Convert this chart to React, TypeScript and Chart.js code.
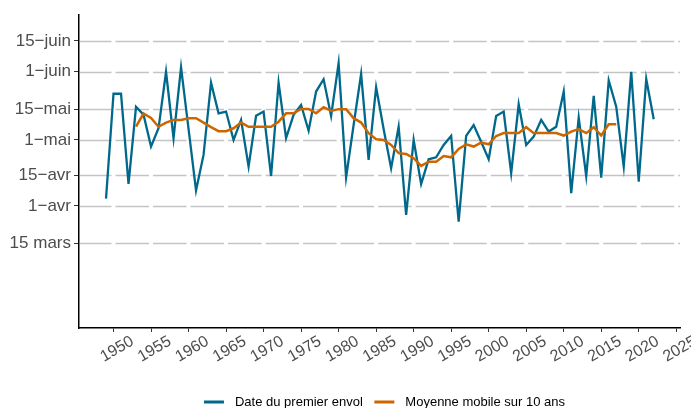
import React, { useEffect, useRef } from 'react';
import { Chart, registerables } from 'chart.js';

Chart.register(...registerables);

// ---- Data ----
const years: number[] = [];
for (let y = 1949; y <= 2022; y++) years.push(y);

// Day of year of the first flight (1949..2022)
const firstFlight: number[] = [
  94.3, 142, 142, 101, 136, 132.5, 118, 126.3, 152, 121.8, // 1949-1958
  154, 126, 98, 114.2, 147, 133.1, 133.9, 121, 130.1, 108.9, // 1959-1968
  132, 133.9, 104.6, 147, 121.8, 132.4, 136.9, 125.2, 143, 148.6, // 1969-1978
  131.9, 155.9, 104, 127.8, 151, 111.9, 145, 126, 108.1, 127, // 1979-1988
  86.9, 121, 101, 112.2, 113.1, 118.7, 122.8, 83.9, 122.8, 127.8, // 1989-1998
  120.2, 112.2, 131.9, 133.9, 105.9, 137.2, 118.7, 122.5, 130.1, 124.8, // 1999-2008
  127, 143, 96.8, 131.1, 104.6, 141, 103.9, 148, 136.1, 108.9, // 2009-2018
  152, 102, 148.7, 130.4, // 2019-2022
];

// 10-year moving average, 1953..2017
const maStartYear = 1953;
const movingAvg: number[] = [
  127, 133, 131, 127, 128.9, 130.1, 130.1, 130.9, 130.9, 128.9, // 1953-1962
  126.8, 125, 125, 126.3, 128.9, 127, 127, 127, 127, 129.3, // 1963-1972
  133.1, 133.1, 135.1, 135.1, 133.1, 135.9, 134.2, 135, 135, 130.9, // 1973-1982
  128.9, 124.1, 121.3, 121, 118.7, 115, 114.6, 112.7, 109.2, 111.1, // 1983-1992
  111.1, 113.7, 113.1, 116.9, 119, 118, 119.8, 119, 122.8, 124.1, // 1993-2002
  124.1, 124.1, 126.8, 124.1, 124.1, 124.1, 124.1, 123, 124.8, 125.9, // 2003-2012
  124.1, 126.8, 123, 128.1, 128.1, // 2013-2017
];

const seriesLabels = ['Date du premier envol', 'Moyenne mobile sur 10 ans'];
const seriesColors = ['#00688B', '#CD6600'];

const yTickValues = [74, 91, 105, 121, 135, 152, 166];
const yTickLabels = ['15 mars', '1\u2212avr', '15\u2212avr', '1\u2212mai', '15\u2212mai', '1\u2212juin', '15\u2212juin'];
const xTickValues = [1950, 1955, 1960, 1965, 1970, 1975, 1980, 1985, 1990, 1995, 2000, 2005, 2010, 2015, 2020, 2025];

const FONT = '"Liberation Sans", Arial, Helvetica, sans-serif';

// Horizontal grid lines, broken by white gaps at each x tick
const gridPlugin = {
  id: 'brokenGrid',
  beforeDatasetsDraw(chart: any) {
    const ctx = chart.ctx as CanvasRenderingContext2D;
    const xs = chart.scales.x;
    const ys = chart.scales.y;
    const ca = chart.chartArea;
    const gapHalf = 2;
    const breaks = xs.ticks
      .map((t: any) => xs.getPixelForValue(t.value))
      .filter((px: number) => px > ca.left && px < ca.right);
    ctx.save();
    ctx.strokeStyle = '#C4C4C4';
    ctx.lineWidth = 1.3;
    ys.ticks.forEach((t: any) => {
      const py = Math.round(ys.getPixelForValue(t.value)) + 0.5;
      let start = ca.left + 1;
      ctx.beginPath();
      breaks.forEach((bx: number) => {
        ctx.moveTo(start, py);
        ctx.lineTo(bx - gapHalf, py);
        start = bx + gapHalf;
      });
      ctx.moveTo(start, py);
      ctx.lineTo(ca.right, py);
      ctx.stroke();
    });
    ctx.restore();
  },
};

const legendPlugin = {
  id: 'customLegend',
  afterDraw(chart: any) {
    const ctx = chart.ctx as CanvasRenderingContext2D;
    ctx.save();
    ctx.font = `13px ${FONT}`;
    ctx.textBaseline = 'middle';
    ctx.textAlign = 'left';
    const y = 402;
    const lineW = 20;
    const gap = 11;
    const spacing = 11.5;
    const items = chart.data.datasets.map((d: any) => ({ label: d.label, color: d.borderColor }));
    let total = 0;
    items.forEach((it: any, i: number) => {
      total += lineW + gap + ctx.measureText(it.label).width;
      if (i > 0) total += spacing;
    });
    const ca = chart.chartArea;
    let x = (ca.left + ca.right) / 2 + 5 - total / 2;
    items.forEach((it: any) => {
      ctx.strokeStyle = it.color;
      ctx.lineWidth = 3;
      ctx.beginPath();
      ctx.moveTo(x, y);
      ctx.lineTo(x + lineW, y);
      ctx.stroke();
      x += lineW + gap;
      ctx.fillStyle = '#000000';
      ctx.fillText(it.label, x, y);
      x += ctx.measureText(it.label).width + spacing;
    });
    ctx.restore();
  },
};

export default function App() {
  const canvasRef = useRef<HTMLCanvasElement | null>(null);

  useEffect(() => {
    const canvas = canvasRef.current;
    if (!canvas) return;
    const blueData = years.map((yr, i) => ({ x: yr, y: firstFlight[i] }));
    const maData = movingAvg.map((v, i) => ({ x: maStartYear + i, y: v }));

    const chart = new Chart(canvas, {
      type: 'line',
      data: {
        datasets: [
          {
            label: seriesLabels[0],
            data: blueData,
            borderColor: seriesColors[0],
            backgroundColor: seriesColors[0],
            borderWidth: 2.3,
            pointRadius: 0,
            tension: 0,
            order: 2,
          },
          {
            label: seriesLabels[1],
            data: maData,
            borderColor: seriesColors[1],
            backgroundColor: seriesColors[1],
            borderWidth: 2.5,
            pointRadius: 0,
            tension: 0,
            order: 1,
          },
        ],
      },
      options: {
        responsive: false,
        animation: false,
        devicePixelRatio: 1,
        layout: { padding: { left: 0, right: 11, top: 15, bottom: 0 } },
        plugins: {
          legend: { display: false },
          tooltip: { enabled: false },
        },
        scales: {
          x: {
            type: 'linear',
            min: 1945.4,
            max: 2025.5,
            afterBuildTicks: (scale: any) => {
              scale.ticks = xTickValues.map((v) => ({ value: v }));
            },
            afterFit: (scale: any) => {
              scale.height = 80;
            },
            grid: {
              drawOnChartArea: false,
              color: '#333333',
              tickColor: '#333333',
              tickWidth: 1,
              tickLength: 4,
            },
            border: { display: true, color: '#000000', width: 1.5 },
            ticks: {
              autoSkip: false,
              minRotation: 30,
              maxRotation: 30,
              labelOffset: 19,
              padding: 0,
              color: '#4D4D4D',
              font: { family: FONT, size: 16 },
              callback: (v: any) => String(v),
            },
          },
          y: {
            type: 'linear',
            min: 35.5,
            max: 177.8,
            afterBuildTicks: (scale: any) => {
              scale.ticks = yTickValues.map((v) => ({ value: v }));
            },
            afterFit: (scale: any) => {
              scale.width = 79;
            },
            grid: {
              drawOnChartArea: false,
              color: '#333333',
              tickColor: '#333333',
              tickWidth: 1,
              tickLength: 5,
            },
            border: { display: true, color: '#000000', width: 1.5 },
            ticks: {
              autoSkip: false,
              padding: 3,
              color: '#4D4D4D',
              font: { family: FONT, size: 17 },
              callback: (v: any) => {
                const idx = yTickValues.indexOf(Number(v));
                return idx >= 0 ? yTickLabels[idx] : '';
              },
            },
          },
        },
      },
      plugins: [gridPlugin, legendPlugin],
    } as any);

    return () => {
      chart.destroy();
    };
  }, []);

  return (
    <div style={{ position: 'absolute', left: 0, top: 0, width: 691, height: 408, overflow: 'hidden', background: '#FFFFFF' }}>
      <canvas ref={canvasRef} width={691} height={408} style={{ display: 'block', width: 691, height: 408 }} />
    </div>
  );
}
